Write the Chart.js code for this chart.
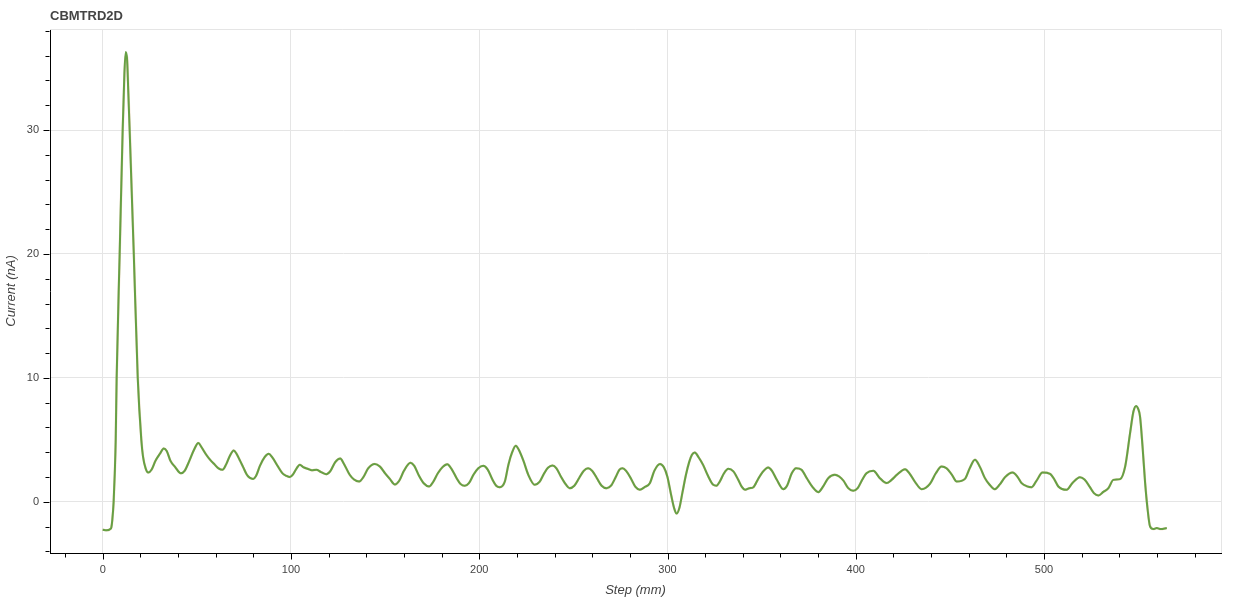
<!DOCTYPE html>
<html>
<head>
<meta charset="utf-8">
<script src="https://cdn.jsdelivr.net/npm/chart.js@4.4.1/dist/chart.umd.min.js"></script>
<style>
  html, body { margin: 0; padding: 0; background: #fff; }
  #wrap { width: 1250px; height: 600px; position: relative; }
</style>
</head>
<body>
<div id="wrap"><canvas id="c" width="1250" height="600"></canvas></div>
<script>
const chartTitle = "CBMTRD2D";
const xLabel = "Step (mm)";
const yLabel = "Current (nA)";

const steps = [0,2,4,4.6,5.1,5.8,6.4,6.9,7.4,9.0,10.6,11.5,12.2,12.9,13.6,14.3,16.5,18.6,20.5,21.4,22.8,24.2,26,28,30.5,32.4,34,36,38.5,41.5,43.5,46,48.5,50.8,52.5,55,57,59.5,61.5,63.6,65.5,67.5,69.6,71,73,74.6,76.5,78,79.9,81.5,83.5,86,88.2,90,93.1,95.5,97.5,99.4,101,103,104.7,106.5,109.1,111,113.5,116,118.8,121,123.5,126.2,128,131.2,133.5,136.2,138.5,141,144.5,147.2,150,152.5,155.2,157.5,160,163.5,165.5,168,170.5,173.4,175.5,178,180.5,183,185.5,188,190,192.3,194.5,197,199.5,202.1,204.5,207,209,210.9,213.6,215.5,217.5,219.4,221,223.5,226,229.5,232,234.5,236.5,238.9,241,243.5,246,248.1,250.5,253,255.5,257.8,260,262.5,265,267.6,270,272.5,274.5,276.1,278,280.5,283,285.3,288,290.6,293,296,298,299.9,302,303.5,304.8,306.3,308,309.8,311.5,313,314.5,316.5,318.9,321.5,324.3,326,327.8,330,332.3,335,337.5,339.5,341.2,343.5,345.6,348,350.5,353.5,355.5,358,361.5,363.5,366,368.3,371.2,374,377,380.1,382.5,385.4,388.9,391.2,393.5,396,398.6,401,403.5,405.7,409.3,412.8,416.4,419,422,426.2,428.5,431.5,435,439.4,442.5,445.6,448.2,451,453.6,458,460.5,463.3,466,468.6,471,473.9,476.5,479.3,483.3,486,488.1,491,493.4,496,499.2,503.2,505.5,507.6,512,515,519.1,521.5,524.4,526.5,528.9,531.5,534.2,536.8,540.4,543.1,545.7,547.5,548.9,550,551,552.3,553.7,555,556.3,558,559.9,562,565.2];

const currentGreen = [-2.25,-2.3,-2.2,-2.05,-1.45,0,2.3,5,10,20,30,34.5,36.3,35.8,33,30,20,10,5.0,3.65,2.7,2.36,2.6,3.3,3.9,4.3,4.1,3.3,2.8,2.3,2.5,3.3,4.2,4.75,4.4,3.8,3.4,3.0,2.7,2.58,3.0,3.7,4.14,3.9,3.3,2.8,2.2,1.95,1.85,2.1,2.9,3.6,3.87,3.6,2.85,2.3,2.1,2.0,2.2,2.7,3.0,2.8,2.65,2.55,2.58,2.4,2.23,2.5,3.2,3.49,3.1,2.18,1.8,1.64,2.0,2.7,3.06,2.85,2.3,1.85,1.4,1.7,2.5,3.15,2.9,2.1,1.5,1.24,1.6,2.3,2.8,3.04,2.6,1.9,1.45,1.29,1.5,2.2,2.7,2.9,2.6,1.8,1.3,1.18,1.64,3.0,4.0,4.52,4.2,3.3,2.2,1.37,1.6,2.3,2.75,2.93,2.7,2.0,1.4,1.1,1.3,1.9,2.5,2.71,2.5,1.9,1.3,1.1,1.3,2.0,2.6,2.71,2.5,1.9,1.2,0.97,1.2,1.5,2.5,3.06,2.8,2.04,0.5,-0.5,-0.95,-0.5,0.8,2.18,3.2,3.8,3.98,3.6,2.98,2.1,1.37,1.3,1.64,2.3,2.66,2.45,1.8,1.2,0.97,1.1,1.18,1.8,2.4,2.77,2.5,1.8,1.02,1.3,2.3,2.71,2.58,1.9,1.2,0.78,1.2,1.91,2.18,2.04,1.7,1.1,0.89,1.1,1.8,2.31,2.5,1.91,1.51,1.77,2.2,2.63,2.3,1.6,1.02,1.45,2.3,2.85,2.71,2.2,1.64,1.85,2.7,3.39,2.8,1.91,1.4,1.02,1.4,1.99,2.36,2.0,1.51,1.25,1.18,1.7,2.36,2.26,1.8,1.24,0.97,1.5,1.99,1.8,1.18,0.7,0.51,0.8,1.1,1.77,1.83,2.85,5.54,7.3,7.74,7.5,6.88,4.5,1.51,-0.6,-1.99,-2.2,-2.12,-2.2,-2.12];

const currentOrange = [-2.25,-2.3,-2.2,-2.05,-1.5,-0.1,2.2,4.8,9.8,19.8,29.8,34.2,36.0,35.9,33.3,30.3,20.3,10.2,5.1,3.7,2.7,2.36,2.6,3.3,3.9,4.3,4.1,3.3,2.8,2.3,2.5,3.3,4.2,4.75,4.4,3.8,3.4,3.0,2.7,2.58,3.0,3.7,4.14,3.9,3.3,2.8,2.2,1.95,1.85,2.1,2.9,3.6,3.87,3.6,2.85,2.3,2.1,2.0,2.2,2.7,3.0,2.8,2.65,2.55,2.58,2.4,2.23,2.5,3.2,3.49,3.1,2.18,1.8,1.64,2.0,2.7,3.06,2.85,2.3,1.85,1.4,1.7,2.5,3.15,2.9,2.1,1.5,1.24,1.6,2.3,2.8,3.04,2.6,1.9,1.45,1.29,1.5,2.2,2.7,2.9,2.6,1.8,1.3,1.18,1.64,3.0,4.0,4.52,4.2,3.3,2.2,1.37,1.6,2.3,2.75,2.93,2.7,2.0,1.4,1.1,1.3,1.9,2.5,2.71,2.5,1.9,1.3,1.1,1.3,2.0,2.6,2.71,2.5,1.9,1.2,0.97,1.2,1.5,2.5,3.06,2.8,2.04,0.5,-0.5,-0.95,-0.5,0.8,2.18,3.2,3.8,3.98,3.6,2.98,2.1,1.37,1.3,1.64,2.3,2.66,2.45,1.8,1.2,0.97,1.1,1.18,1.8,2.4,2.77,2.5,1.8,1.02,1.3,2.3,2.71,2.58,1.9,1.2,0.78,1.2,1.91,2.18,2.04,1.7,1.1,0.89,1.1,1.8,2.31,2.5,1.91,1.51,1.77,2.2,2.63,2.3,1.6,1.02,1.45,2.3,2.85,2.71,2.2,1.64,1.85,2.7,3.39,2.8,1.91,1.4,1.02,1.4,1.99,2.36,2.0,1.51,1.25,1.18,1.7,2.36,2.26,1.8,1.24,0.97,1.5,1.99,1.8,1.18,0.7,0.51,0.8,1.1,1.77,1.83,2.85,5.5,7.25,7.7,7.5,6.9,4.6,1.6,-0.5,-1.95,-2.2,-2.12,-2.2,-2.12];

const xMajorTicks = [0, 100, 200, 300, 400, 500];
const xMinorTicks = [-20, 20, 40, 60, 80, 120, 140, 160, 180, 220, 240, 260, 280, 320, 340, 360, 380, 420, 440, 460, 480, 520, 540, 560, 580];
const yMajorTicks = [0, 10, 20, 30];
const yMinorTicks = [-4, -2, 2, 4, 6, 8, 12, 14, 16, 18, 22, 24, 26, 28, 32, 34, 36, 38];

const FONT = '"Liberation Sans", Arial, Helvetica, sans-serif';

const bokehAxes = {
  id: 'bokehAxes',
  beforeDatasetsDraw(chart) {
    const { ctx, chartArea: a } = chart;
    ctx.save();
    ctx.strokeStyle = '#e5e5e5';
    ctx.lineWidth = 1;
    ctx.beginPath();
    ctx.moveTo(a.left, a.top + 0.5);
    ctx.lineTo(a.right + 0.5, a.top + 0.5);
    ctx.lineTo(a.right + 0.5, a.bottom);
    ctx.stroke();
    ctx.restore();
  },
  afterDraw(chart) {
    const { ctx, chartArea: a, scales } = chart;
    const xs = scales.x, ys = scales.y;
    ctx.save();
    ctx.strokeStyle = '#000';
    ctx.lineWidth = 1;
    ctx.beginPath();
    const by = Math.round(a.bottom) + 0.5;
    const lx = Math.round(a.left) - 0.5;
    xMajorTicks.forEach(v => { const p = Math.round(xs.getPixelForValue(v)) + 0.5; ctx.moveTo(p, by); ctx.lineTo(p, by + 6); });
    xMinorTicks.forEach(v => { const p = Math.round(xs.getPixelForValue(v)) + 0.5; ctx.moveTo(p, by); ctx.lineTo(p, by + 4); });
    yMajorTicks.forEach(v => { const p = Math.round(ys.getPixelForValue(v)) + 0.5; ctx.moveTo(lx, p); ctx.lineTo(lx - 6, p); });
    yMinorTicks.forEach(v => { const p = Math.round(ys.getPixelForValue(v)) + 0.5; ctx.moveTo(lx, p); ctx.lineTo(lx - 4, p); });
    ctx.stroke();
    ctx.fillStyle = '#444';
    ctx.font = 'bold 13px ' + FONT;
    ctx.textAlign = 'left';
    ctx.textBaseline = 'middle';
    ctx.fillText(chartTitle, a.left, 16);
    ctx.restore();
  }
};

const ctx = document.getElementById('c').getContext('2d');
new Chart(ctx, {
  type: 'line',
  data: {
    datasets: [
      {
        label: 'green',
        data: steps.map((x, i) => ({ x: x, y: currentGreen[i] })),
        borderColor: '#66a044',
        borderWidth: 2,
        pointRadius: 0,
        cubicInterpolationMode: 'monotone',
        fill: false,
        order: 0
      },
      {
        label: 'orange',
        data: steps.map((x, i) => ({ x: x, y: currentOrange[i] })),
        borderColor: 'rgba(215,160,110,0.45)',
        borderWidth: 2.4,
        pointRadius: 0,
        cubicInterpolationMode: 'monotone',
        fill: false,
        order: 1
      }
    ]
  },
  options: {
    responsive: false,
    animation: false,
    devicePixelRatio: 1,
    layout: { padding: { top: 29, right: 29, left: 0, bottom: 0 } },
    plugins: { legend: { display: false }, tooltip: { enabled: false }, title: { display: false } },
    scales: {
      x: {
        type: 'linear',
        min: -28,
        max: 594,
        afterFit(s) { s.height = 47; },
        ticks: {
          stepSize: 100,
          includeBounds: false,
          autoSkip: false,
          maxRotation: 0,
          padding: 10,
          color: '#444',
          font: { family: FONT, size: 11 }
        },
        grid: { color: '#e5e5e5', drawTicks: false, lineWidth: 1 },
        border: { display: true, color: '#000', width: 1 },
        title: {
          display: true,
          text: xLabel,
          color: '#444',
          font: { family: FONT, size: 13, style: 'italic' },
          padding: { top: 0, bottom: 2 }
        }
      },
      y: {
        type: 'linear',
        min: -4.13,
        max: 38.15,
        afterFit(s) { s.width = 50; },
        ticks: {
          stepSize: 10,
          includeBounds: false,
          padding: 11,
          color: '#444',
          font: { family: FONT, size: 11 }
        },
        grid: { color: '#e5e5e5', drawTicks: false, lineWidth: 1 },
        border: { display: true, color: '#000', width: 1 },
        title: {
          display: true,
          text: yLabel,
          color: '#444',
          font: { family: FONT, size: 13, style: 'italic' },
          padding: { top: 4, bottom: 0 }
        }
      }
    }
  },
  plugins: [bokehAxes]
});
</script>
</body>
</html>
